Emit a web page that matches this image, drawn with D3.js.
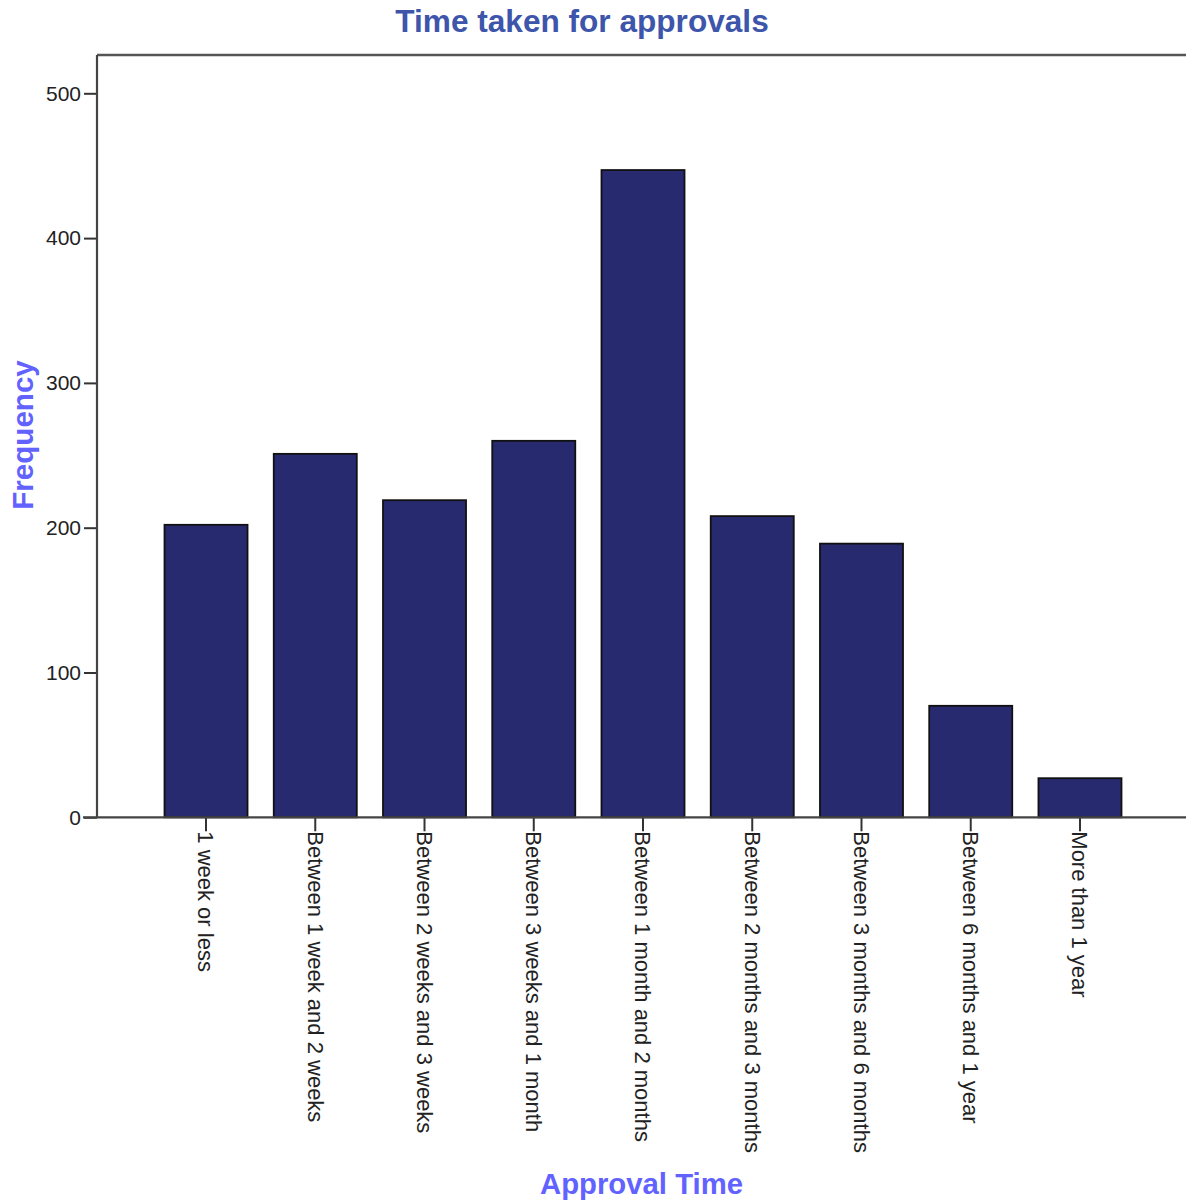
<!DOCTYPE html>
<html>
<head>
<meta charset="utf-8">
<script src="https://cdn.jsdelivr.net/npm/d3@7"></script>
<style>
  html, body { margin: 0; padding: 0; background: #ffffff; }
  svg { display: block; }
</style>
</head>
<body>
<div id="chart"></div>
<script>
// Approval time categories and their frequencies
const categories = [
  "1 week or less",
  "Between 1 week and 2 weeks",
  "Between 2 weeks and 3 weeks",
  "Between 3 weeks and 1 month",
  "Between 1 month and 2 months",
  "Between 2 months and 3 months",
  "Between 3 months and 6 months",
  "Between 6 months and 1 year",
  "More than 1 year"
];
const frequencies = [202, 251, 219, 260, 447, 208, 189, 77, 27];
const yTicks = [0, 100, 200, 300, 400, 500];

const title = "Time taken for approvals";
const xTitle = "Approval Time";
const yTitle = "Frequency";

const width = 1186, height = 1201;
const frame = { left: 97, right: 1189, top: 55, bottom: 817.3 };

const svg = d3.select("#chart").append("svg")
  .attr("width", width)
  .attr("height", height)
  .style("font-family", "'Liberation Sans', Arial, sans-serif");

const x = d3.scaleBand()
  .domain(categories)
  .range([151.4, 1134.6])
  .paddingInner(0.24)
  .paddingOuter(0.12);

const y = d3.scaleLinear()
  .domain([0, 500])
  .range([frame.bottom, 93.3]);

// Frame: top border
svg.append("line")
  .attr("x1", frame.left).attr("x2", frame.right)
  .attr("y1", frame.top).attr("y2", frame.top)
  .attr("stroke", "#555").attr("stroke-width", 2.5);

// Bars
svg.append("g").selectAll("rect")
  .data(frequencies)
  .join("rect")
  .attr("x", (d, i) => x(categories[i]))
  .attr("y", d => y(d))
  .attr("width", x.bandwidth())
  .attr("height", d => y(0) - y(d))
  .attr("fill", "#282a70")
  .attr("stroke", "#111")
  .attr("stroke-width", 1.8);

// Y axis
const yAxis = svg.append("g")
  .attr("transform", `translate(${frame.left},0)`)
  .call(d3.axisLeft(y).tickValues(yTicks).tickSize(13).tickPadding(3).tickSizeOuter(0));
yAxis.select(".domain").remove();
yAxis.selectAll(".tick line").attr("stroke", "#333").attr("stroke-width", 2);
yAxis.selectAll(".tick text")
  .attr("fill", "#222")
  .style("font-size", "21px");
svg.append("line")
  .attr("x1", frame.left).attr("x2", frame.left)
  .attr("y1", frame.top).attr("y2", frame.bottom)
  .attr("stroke", "#444").attr("stroke-width", 2.2);

// X axis with labels rotated to read downward
const xAxis = svg.append("g")
  .attr("transform", `translate(0,${frame.bottom})`)
  .call(d3.axisBottom(x).tickSize(14).tickSizeOuter(0));
xAxis.select(".domain").remove();
xAxis.selectAll(".tick line").attr("stroke", "#333").attr("stroke-width", 2);
xAxis.selectAll(".tick text")
  .attr("fill", "#222")
  .style("font-size", "22px")
  .attr("text-anchor", "start")
  .attr("dy", "0.35em")
  .attr("y", 0)
  .attr("transform", "translate(0,14) rotate(90)");
svg.append("line")
  .attr("x1", 83).attr("x2", frame.right)
  .attr("y1", frame.bottom).attr("y2", frame.bottom)
  .attr("stroke", "#444").attr("stroke-width", 2.2);

// Titles
svg.append("text")
  .attr("x", 582).attr("y", 32)
  .attr("text-anchor", "middle")
  .attr("fill", "#3d55aa")
  .style("font-size", "31.6px").style("font-weight", "bold")
  .text(title);

svg.append("text")
  .attr("x", 641.5).attr("y", 1194)
  .attr("text-anchor", "middle")
  .attr("fill", "#6262ff")
  .style("font-size", "29.3px").style("font-weight", "bold")
  .text(xTitle);

svg.append("text")
  .attr("transform", "translate(33,435) rotate(-90)")
  .attr("text-anchor", "middle")
  .attr("fill", "#6262ff")
  .style("font-size", "29.6px").style("font-weight", "bold")
  .text(yTitle);
</script>
</body>
</html>
